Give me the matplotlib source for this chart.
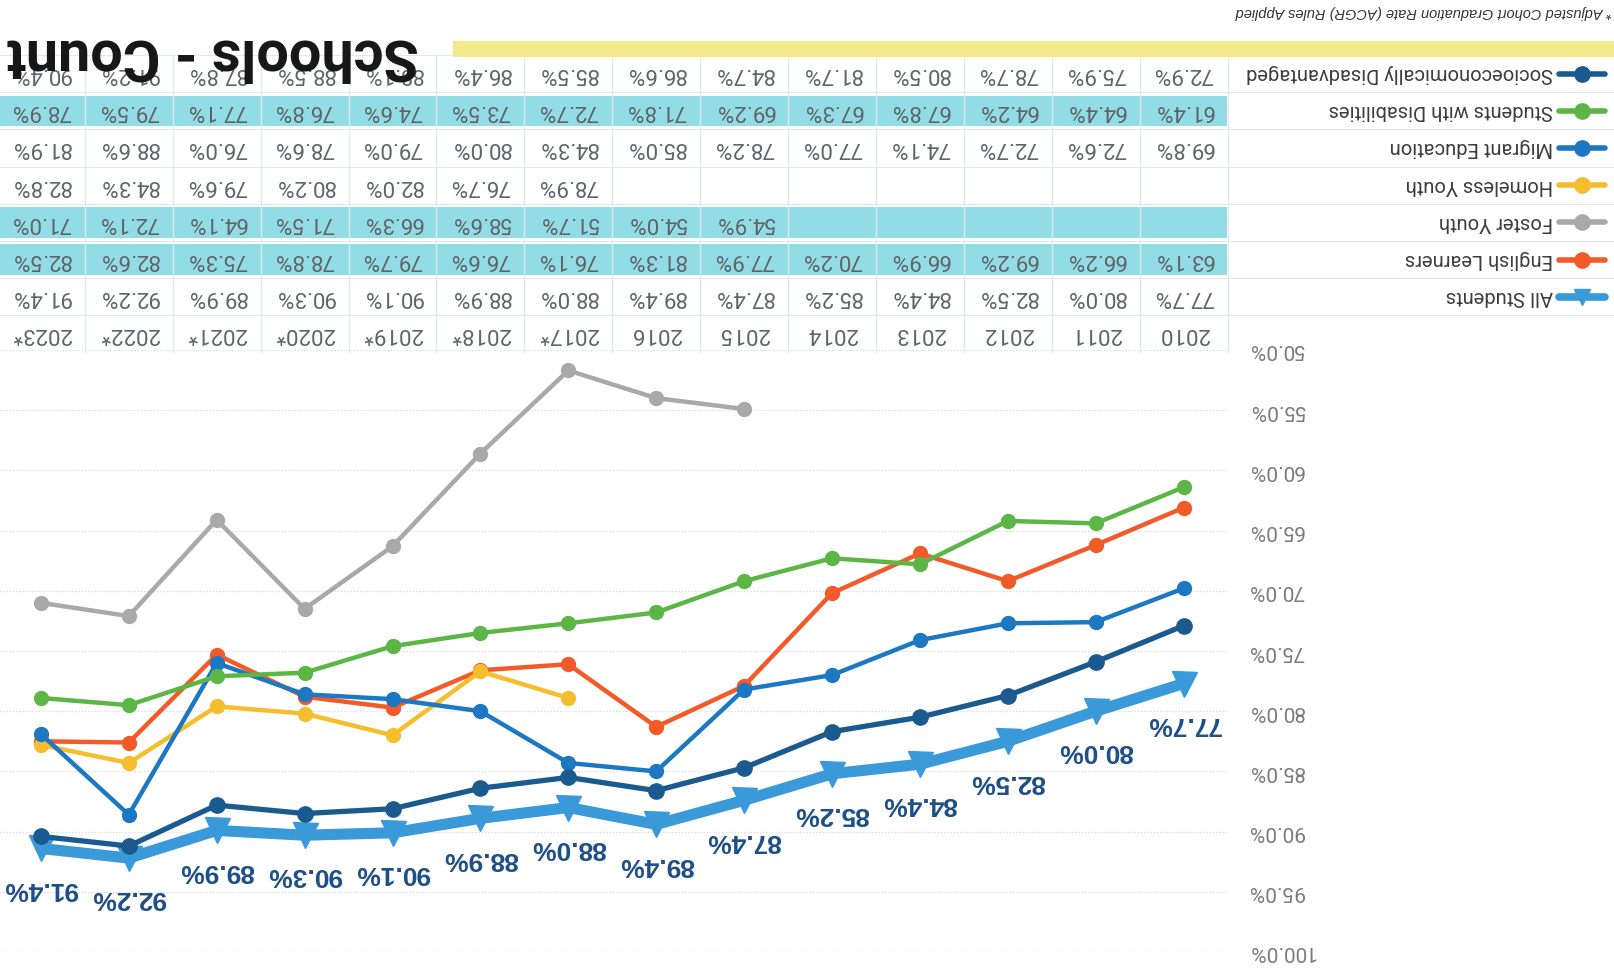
import matplotlib
matplotlib.use('Agg')
import matplotlib.pyplot as plt
from matplotlib import font_manager
from matplotlib.patches import Rectangle
import numpy as np

# ---------------- data ----------------
years = [2010, 2011, 2012, 2013, 2014, 2015, 2016, 2017, 2018, 2019, 2020, 2021, 2022, 2023]
year_labels = ['2010', '2011', '2012', '2013', '2014', '2015', '2016',
               '2017*', '2018*', '2019*', '2020*', '2021*', '2022*', '2023*']
all_students = [77.7, 80.0, 82.5, 84.4, 85.2, 87.4, 89.4, 88.0, 88.9, 90.1, 90.3, 89.9, 92.2, 91.4]
english_learners = [63.1, 66.2, 69.2, 66.9, 70.2, 77.9, 81.3, 76.1, 76.6, 79.7, 78.8, 75.3, 82.6, 82.5]
foster_youth = [None, None, None, None, None, 54.9, 54.0, 51.7, 58.6, 66.3, 71.5, 64.1, 72.1, 71.0]
homeless_youth = [None, None, None, None, None, None, None, 78.9, 76.7, 82.0, 80.2, 79.6, 84.3, 82.8]
migrant_education = [69.8, 72.6, 72.7, 74.1, 77.0, 78.2, 85.0, 84.3, 80.0, 79.0, 78.6, 76.0, 88.6, 81.9]
students_disabilities = [61.4, 64.4, 64.2, 67.8, 67.3, 69.2, 71.8, 72.7, 73.5, 74.6, 76.8, 77.1, 79.5, 78.9]
socio_disadvantaged = [72.9, 75.9, 78.7, 80.5, 81.7, 84.7, 86.6, 85.5, 86.4, 88.1, 88.5, 87.8, 91.2, 90.4]

series_names = ['All Students', 'English Learners', 'Foster Youth', 'Homeless Youth',
                'Migrant Education', 'Students with Disabilities', 'Socioeconomically Disadvantaged']
series_values = [all_students, english_learners, foster_youth, homeless_youth,
                 migrant_education, students_disabilities, socio_disadvantaged]
series_colors = ['#3A9AD9', '#F25A28', '#A9A9A9', '#F6BD2C', '#1C78C2', '#5CB646', '#1A5A8E']
highlight_rows = ['English Learners', 'Foster Youth', 'Students with Disabilities']
y_ticks = [50, 55, 60, 65, 70, 75, 80, 85, 90, 95, 100]
title_text = 'Schools - Count'
footnote_text = '* Adjusted Cohort Graduation Rate (ACGR) Rules Applied'

# ---------------- fonts ----------------
available = {f.name for f in font_manager.fontManager.ttflist}
def pick(*names):
    for n in names:
        if n in available:
            return n
    return 'DejaVu Sans'
NARROW = pick('Liberation Sans Narrow', 'DejaVu Sans Condensed', 'Roboto', 'Open Sans')
REG = pick('Liberation Sans', 'DejaVu Sans')

W, H = 1614, 973
fig = plt.figure(figsize=(W / 100, H / 100), dpi=100)
fig.patch.set_facecolor('white')

# horizontal layout: figure pixel -> year coordinate (chart is shown rotated 180 degrees)
X2010, STEP = 1183.6, 87.9
def px2year(px):
    return 2010 - (px - X2010) / STEP
XL = (px2year(0), px2year(W))

# ---------------- plot ----------------
top_px, bot_px = 350, 952
ax = fig.add_axes([0, (H - bot_px) / H, 1, (bot_px - top_px) / H])
ax.set_xlim(*XL)
ax.set_ylim(100, 50)
ax.axis('off')

for t in y_ticks:
    ax.hlines(t, px2year(0), px2year(1227), colors='#D3DBDF', linestyles=(0, (1, 1.5)), lw=0.9)
    ax.text(px2year(1248), t, f'{t:.1f}%', rotation=180, ha='left', va='center',
            color='#7A7A7A', fontsize=15, family=NARROW)

for name, vals, col in zip(series_names, series_values, series_colors):
    v = np.array([np.nan if x is None else x for x in vals], dtype=float)
    if name == 'All Students':
        ax.plot(years, v, color=col, lw=8, marker='v', ms=18, solid_joinstyle='round',
                solid_capstyle='round', zorder=3)
    elif name == 'Socioeconomically Disadvantaged':
        ax.plot(years, v, color=col, lw=3.8, marker='o', ms=11, zorder=5)
    else:
        ax.plot(years, v, color=col, lw=3.2, marker='o', ms=10, zorder=4)

for yr, v in zip(years, all_students):
    ax.annotate(f'{v:.1f}%', (yr, v), xytext=(0, -29), textcoords='offset points',
                ha='center', va='center', rotation=180, fontweight='bold',
                color='#1D4E86', fontsize=19, family=REG, zorder=6)

# ---------------- table ----------------
tab_bot, tab_top = 352.6, 55.0
tab = fig.add_axes([0, (H - tab_bot) / H, 1, (tab_bot - tab_top) / H])
tab.set_xlim(*XL)
tab.set_ylim(-0.5, 7.5)
tab.axis('off')
table_right = 1227 / W

for name in highlight_rows:
    r = series_names.index(name) + 1
    tab.axhspan(r - 0.41, r + 0.41, xmin=0, xmax=table_right, color='#92DDE5', lw=0, zorder=0)

for b in np.arange(-0.5, 8.0, 1.0):
    tab.axhline(b, color='#E1E8EB', lw=0.8, zorder=1)
tab.vlines([y - 0.5 for y in years] + [years[-1] + 0.5], -0.5, 7.5,
           colors='#E1E8EB', lw=0.9, zorder=1)

for yr, lab in zip(years, year_labels):
    tab.text(yr, 0, lab, rotation=180, ha='center', va='center', color='#5F6468',
             fontsize=16, family=NARROW, zorder=2)

for i, (name, vals, col) in enumerate(zip(series_names, series_values, series_colors)):
    r = i + 1
    for yr, v in zip(years, vals):
        if v is not None:
            tab.text(yr, r, f'{v:.1f}%', rotation=180, ha='center', va='center',
                     color='#5F6468', fontsize=16, family=NARROW, zorder=2)
    lw = 5.5 if name == 'All Students' else 4
    tab.plot([px2year(1559), px2year(1605)], [r, r], color=col, lw=lw,
             solid_capstyle='round', clip_on=False, zorder=3)
    tab.plot([px2year(1582)], [r], marker='v' if name == 'All Students' else 'o',
             ms=11, color=col, clip_on=False, zorder=3)
    tab.text(px2year(1553), r, name, rotation=180, ha='right', va='center',
             color='#3C3C3C', fontsize=14.5, family=NARROW, zorder=3)

# ---------------- title, band, footnote ----------------
fig.patches.append(Rectangle((453 / W, 1 - 57 / H), 1 - 453 / W, 16 / H,
                             transform=fig.transFigure, facecolor='#F4E98A',
                             edgecolor='none', zorder=0))
fig.text(419 / W, 1 - 55 / H, title_text, rotation=180, ha='right', va='center',
         fontsize=41.5, fontweight='bold', family=NARROW, color='#161616', zorder=10)
fig.text(1612 / W, 1 - 12 / H, footnote_text, rotation=180, ha='right', va='center',
         fontsize=10.5, style='italic', family=REG, color='#333333')

fig.savefig('out.png', dpi=100)
